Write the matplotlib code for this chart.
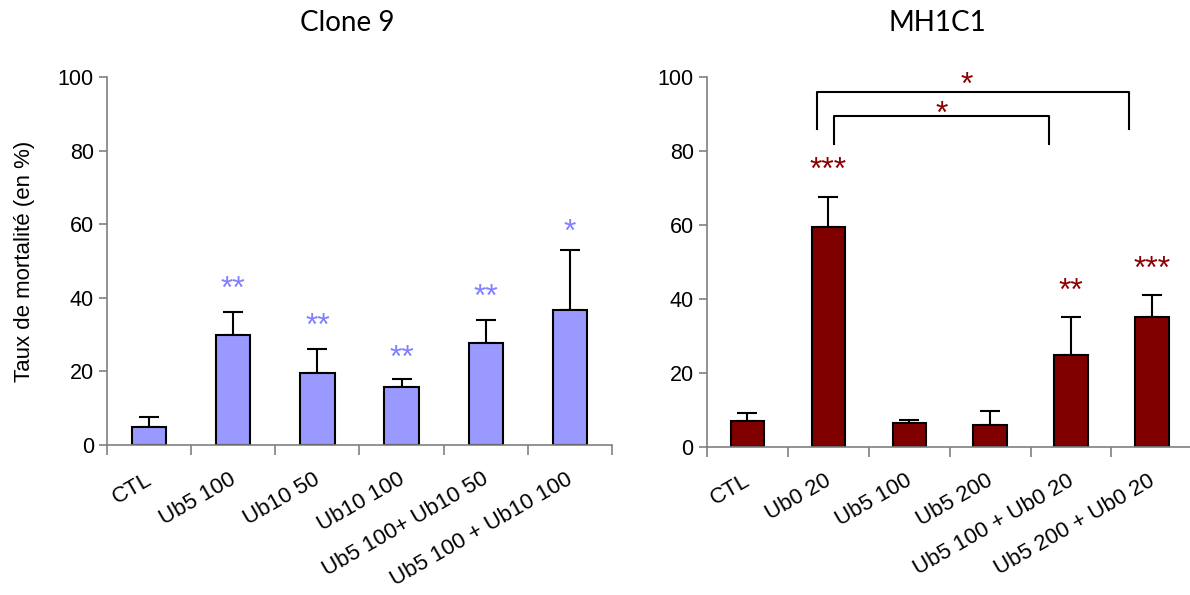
import numpy as np
import matplotlib
matplotlib.use("Agg")
import matplotlib.pyplot as plt

plt.rcParams['font.family'] = ['Liberation Sans', 'DejaVu Sans']

# Clone 9
clone_labels = ['CTL', 'Ub5 100', 'Ub10 50', 'Ub10 100', 'Ub5 100+ Ub10 50', 'Ub5 100 + Ub10 100']
clone_means = [5.0, 29.8, 19.5, 15.8, 27.7, 36.8]
clone_err = [2.7, 6.4, 6.5, 2.1, 6.4, 16.2]
clone_stars = ['', '**', '**', '**', '**', '*']
clone_star_y = [0, 43.6, 33.6, 25.0, 41.4, 59.2]

# MH1C1
mh_labels = ['CTL', 'Ub0 20', 'Ub5 100', 'Ub5 200', 'Ub5 100 + Ub0 20', 'Ub5 200 + Ub0 20']
mh_means = [6.9, 59.5, 6.5, 5.9, 24.8, 35.1]
mh_err = [2.3, 7.9, 0.7, 3.8, 10.3, 5.9]
mh_stars = ['', '***', '', '', '**', '***']
mh_star_y = [0, 76.1, 0, 0, 43.4, 49.3]

# brackets: (x left, x right, y line, y leg bottom, star x, star y)
brackets = [
    (1.36, 5.22, 95.9, 85.8, 3.21, 99.1),
    (1.57, 4.23, 89.4, 81.8, 2.90, 91.3),
]

fig = plt.figure(figsize=(11.9, 5.95), dpi=100)
ax1 = fig.add_axes([0.0899, 0.252, 0.4244, 0.6185])
ax2 = fig.add_axes([0.594, 0.249, 0.408, 0.6218])

STAR_SIZE = 23
STAR_SHIFT = -1.5  # glyph sits high in its box


def draw_panel(ax, labels, means, err, stars, star_y, color, star_color):
    n = len(labels)
    x = np.arange(n) + 0.5
    ax.bar(x, means, width=0.41, color=color, edgecolor='black', linewidth=1.5, zorder=2)
    ax.errorbar(x, means, yerr=[np.zeros(n), err], fmt='none', ecolor='black',
                elinewidth=1.5, capsize=7, capthick=1.5, zorder=1)
    for xi, s, ys in zip(x, stars, star_y):
        if s:
            ax.text(xi, ys + STAR_SHIFT, s, ha='center', va='center',
                    fontsize=STAR_SIZE, color=star_color)
    ax.set_xlim(0, n)
    ax.set_ylim(0, 100)
    ax.set_yticks([0, 20, 40, 60, 80, 100])
    ax.set_xticks(np.arange(n + 1))
    ax.set_xticklabels([])
    ax.tick_params(axis='y', labelsize=15.5, color='#808080', length=6, width=1.2)
    ax.tick_params(axis='x', color='#808080', length=7, width=1.2)
    for sp in ['top', 'right']:
        ax.spines[sp].set_visible(False)
    for sp in ['left', 'bottom']:
        ax.spines[sp].set_color('#808080')
        ax.spines[sp].set_linewidth(1.2)
    for xi, lab in zip(x, labels):
        ax.annotate(lab, xy=(xi, 0), xycoords=('data', 'axes fraction'),
                    xytext=(-3, -17), textcoords='offset points',
                    rotation=30, ha='right', va='top', rotation_mode='anchor',
                    fontsize=16)


draw_panel(ax1, clone_labels, clone_means, clone_err, clone_stars, clone_star_y,
           '#9999FF', '#8080FF')
draw_panel(ax2, mh_labels, mh_means, mh_err, mh_stars, mh_star_y,
           '#800000', '#8B0000')

for xl, xr, yl, yb, sx, sy in brackets:
    ax2.plot([xl, xl, xr, xr], [yb, yl, yl, yb], color='black', lw=1.5,
             clip_on=False, zorder=3)
    ax2.text(sx, sy + STAR_SHIFT, '*', ha='center', va='center',
             fontsize=STAR_SIZE, color='#8B0000')

ax1.set_ylabel('Taux de mortalité (en %)', fontsize=16, labelpad=16)

fig.text(0.292, 0.962, 'Clone 9', ha='center', va='center', fontsize=20,
         family=['Lato', 'DejaVu Sans'])
fig.text(0.788, 0.962, 'MH1C1', ha='center', va='center', fontsize=20,
         family=['Lato', 'DejaVu Sans'])

fig.savefig('out.png', dpi=100)
